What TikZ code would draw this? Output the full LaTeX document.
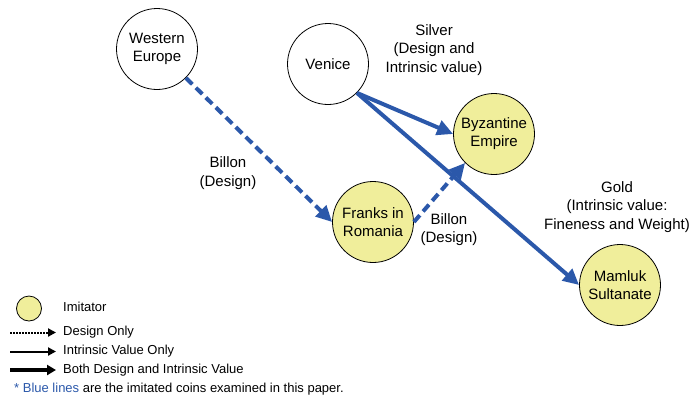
\documentclass[tikz,border=0pt]{standalone}
\usepackage{fontspec}
\setmainfont{Liberation Sans}
\usetikzlibrary{arrows.meta}
\definecolor{lineblue}{RGB}{43,88,170}
\definecolor{imyellow}{RGB}{240,238,155}
\begin{document}
\begin{tikzpicture}[x=1pt,y=-1pt,
  place/.style={circle,draw=black,line width=0.8pt,minimum size=81pt,inner sep=0pt,align=center,font=\fontsize{15}{18}\selectfont},
  imitator/.style={place,fill=imyellow},
  lbl/.style={align=center,font=\fontsize{15}{18.5}\selectfont},
  bluedash/.style={draw=lineblue,line width=4pt,dash pattern=on 9pt off 5pt,-{Triangle[length=16pt,width=15pt]}},
  bluesolid/.style={draw=lineblue,line width=4pt,-{Triangle[length=16pt,width=15pt]}},
  legtext/.style={anchor=west,font=\fontsize{13}{15}\selectfont,inner sep=0pt},
]
\useasboundingbox (0,0) rectangle (695,400);
% nodes
\node[place] (we) at (157,49) {Western\\Europe};
\node[place] (ven) at (328,64) {Venice};
\node[imitator] (byz) at (494,134) {Byzantine\\Empire};
\node[imitator] (fra) at (373,222) {Franks in\\Romania};
\node[imitator] (mam) at (620,285) {Mamluk\\Sultanate};
% connectors
\draw[bluedash] (we.south east) -- (fra.west);
\draw[bluedash] (fra.east) -- (byz.south west);
\draw[bluesolid] (ven.south east) -- (byz.west);
\draw[bluesolid] (ven.south east) -- (mam.west);
% labels
\node[lbl] (l1) at (228,173) {Billon\\(Design)};
\node[lbl] (l2) at (434,50) {Silver\\(Design and\\Intrinsic value)};
\node[lbl] (l3) at (449,229.5) {Billon\\(Design)};
\node[lbl] (l4) at (617,207) {Gold\\(Intrinsic value:\\Fineness and Weight)};
% legend
\node[circle,draw=black,line width=0.8pt,fill=imyellow,minimum size=25pt,inner sep=0pt] (lc) at (29,308.5) {};
\node[legtext] (t1) at (63,306.5) {Imitator};
\coordinate (a1s) at (10,332.5); \coordinate (a1e) at (56,332.5);
\coordinate (a2s) at (10,351.5); \coordinate (a2e) at (56,351.5);
\coordinate (a3s) at (10,370); \coordinate (a3e) at (56,370);
\draw[line width=2pt,dash pattern=on 2pt off 1pt,-{Triangle[length=8pt,width=8pt]}] (a1s) -- (a1e);
\draw[line width=2pt,-{Triangle[length=8pt,width=8pt]}] (a2s) -- (a2e);
\draw[line width=3.5pt,-{Triangle[length=9pt,width=10pt]}] (a3s) -- (a3e);
\node[legtext] (t2) at (63,332.5) {Design Only};
\node[legtext] (t3) at (63,351.5) {Intrinsic Value Only};
\node[legtext] (t4) at (63,370) {Both Design and Intrinsic Value};
\node[legtext] (t5) at (14,389.5) {\textcolor{lineblue}{* Blue lines} are the imitated coins examined in this paper.};
\end{tikzpicture}
\end{document}
